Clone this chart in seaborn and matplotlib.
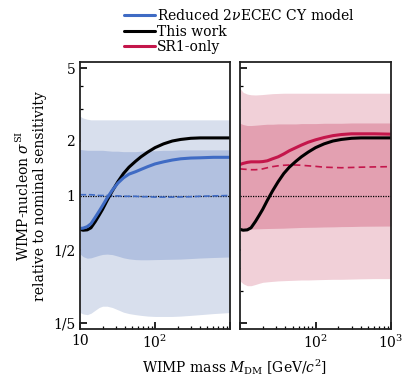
import numpy as np
import pandas as pd
import matplotlib
matplotlib.use("Agg")
import matplotlib.pyplot as plt
import matplotlib.ticker as mticker
import seaborn as sns

# WIMP mass grid [GeV/c^2]
mass = [10, 11, 12.5, 14, 16, 18, 20, 23, 27, 32, 38, 45, 55, 65, 80,
        100, 130, 170, 220, 300, 400, 600, 1000]

# "This work" (shown in both panels)
this_work = [0.652, 0.645, 0.648, 0.665, 0.72, 0.78, 0.84, 0.94, 1.06, 1.19,
             1.32, 1.43, 1.54, 1.63, 1.73, 1.83, 1.92, 1.99, 2.03, 2.06,
             2.07, 2.07, 2.07]

# Reduced 2vECEC CY model
reduced = [0.66, 0.662, 0.675, 0.70, 0.76, 0.82, 0.88, 0.97, 1.07, 1.17,
           1.25, 1.31, 1.35, 1.39, 1.44, 1.49, 1.53, 1.565, 1.59, 1.605,
           1.61, 1.62, 1.62]
reduced_median = [1.01, 1.01, 1.01, 1.01, 1.005, 1.0, 1.0, 1.0, 0.995, 0.995,
                  0.99, 0.99, 0.99, 0.985, 0.985, 0.98, 0.98, 0.98, 0.982,
                  0.985, 0.99, 0.995, 1.0]
reduced_1s_hi = [1.79, 1.78, 1.77, 1.77, 1.77, 1.77, 1.77, 1.76, 1.75, 1.75,
                 1.74, 1.74, 1.74, 1.75, 1.76, 1.76, 1.77, 1.77, 1.78, 1.78,
                 1.78, 1.78, 1.78]
reduced_1s_lo = [0.478, 0.462, 0.453, 0.455, 0.463, 0.47, 0.475, 0.477, 0.474,
                 0.465, 0.455, 0.449, 0.445, 0.444, 0.444, 0.445, 0.446, 0.447,
                 0.448, 0.451, 0.454, 0.457, 0.46]
reduced_2s_hi = [2.72, 2.66, 2.62, 2.60, 2.60, 2.60, 2.60, 2.60, 2.60, 2.60,
                 2.60, 2.60, 2.60, 2.60, 2.60, 2.60, 2.60, 2.60, 2.60, 2.60,
                 2.60, 2.60, 2.60]
reduced_2s_lo = [0.228, 0.224, 0.222, 0.226, 0.235, 0.243, 0.247, 0.247, 0.243,
                 0.236, 0.229, 0.225, 0.222, 0.220, 0.218, 0.217, 0.217, 0.217,
                 0.218, 0.220, 0.222, 0.225, 0.228]

# SR1-only
sr1 = [1.48, 1.50, 1.52, 1.53, 1.53, 1.53, 1.535, 1.55, 1.59, 1.63, 1.69,
       1.76, 1.83, 1.89, 1.96, 2.02, 2.08, 2.13, 2.16, 2.18, 2.18, 2.18, 2.17]
sr1_median = [1.40, 1.395, 1.39, 1.385, 1.385, 1.39, 1.40, 1.42, 1.44, 1.455,
              1.465, 1.47, 1.47, 1.465, 1.455, 1.445, 1.43, 1.425, 1.42,
              1.425, 1.43, 1.435, 1.44]
sr1_1s_hi = [2.49, 2.45, 2.42, 2.42, 2.43, 2.44, 2.45, 2.46, 2.46, 2.47, 2.47,
             2.47, 2.47, 2.48, 2.48, 2.48, 2.49, 2.49, 2.49, 2.50, 2.50, 2.50,
             2.50]
sr1_1s_lo = [0.652, 0.652, 0.654, 0.655, 0.656, 0.657, 0.658, 0.659, 0.66,
             0.661, 0.662, 0.664, 0.666, 0.668, 0.669, 0.67, 0.672, 0.673,
             0.675, 0.676, 0.678, 0.679, 0.68]
sr1_2s_hi = [3.87, 3.68, 3.60, 3.57, 3.56, 3.57, 3.58, 3.60, 3.62, 3.63, 3.64,
             3.64, 3.64, 3.64, 3.64, 3.64, 3.64, 3.64, 3.64, 3.64, 3.64, 3.64,
             3.64]
sr1_2s_lo = [0.34, 0.328, 0.32, 0.32, 0.325, 0.33, 0.334, 0.336, 0.338, 0.34,
             0.341, 0.342, 0.343, 0.344, 0.344, 0.345, 0.346, 0.347, 0.347,
             0.348, 0.349, 0.35, 0.35]

blue = "#3f6bc4"
blue_1s = "#b2c1e0"
blue_2s = "#d8dfed"
red = "#c4164b"
red_1s = "#e3a0b1"
red_2s = "#f1d0d8"

sns.set_theme(style="ticks")
plt.rcParams["font.family"] = ["DejaVu Serif"]
plt.rcParams["mathtext.fontset"] = "dejavuserif"
plt.rcParams["font.size"] = 10
for key in ["text.color", "axes.labelcolor", "xtick.color", "ytick.color"]:
    plt.rcParams[key] = "black"

df = pd.DataFrame({
    "mass": mass, "this_work": this_work, "reduced": reduced,
    "reduced_median": reduced_median, "sr1": sr1, "sr1_median": sr1_median,
})

fig = plt.figure(figsize=(4.16, 3.89), dpi=100)
ax1 = fig.add_axes([80 / 416, 1 - 329 / 389, 150 / 416, 267 / 389])
ax2 = fig.add_axes([240 / 416, 1 - 329 / 389, 151 / 416, 267 / 389])

# left panel: reduced model
ax1.fill_between(mass, reduced_2s_lo, reduced_2s_hi, color=blue_2s, lw=0)
ax1.fill_between(mass, reduced_1s_lo, reduced_1s_hi, color=blue_1s, lw=0)
ax1.axhline(1, color="black", lw=0.9, ls=(0, (1, 1)))
sns.lineplot(data=df, x="mass", y="reduced_median", ax=ax1, color=blue,
             lw=1.2, ls="--", legend=False)
sns.lineplot(data=df, x="mass", y="this_work", ax=ax1, color="black", lw=2.2,
             legend=False)
sns.lineplot(data=df, x="mass", y="reduced", ax=ax1, color=blue, lw=2.2,
             legend=False)

# right panel: SR1-only
ax2.fill_between(mass, sr1_2s_lo, sr1_2s_hi, color=red_2s, lw=0)
ax2.fill_between(mass, sr1_1s_lo, sr1_1s_hi, color=red_1s, lw=0)
ax2.axhline(1, color="black", lw=0.9, ls=(0, (1, 1)))
sns.lineplot(data=df, x="mass", y="sr1_median", ax=ax2, color=red,
             lw=1.2, ls=(0, (4, 2.5)), legend=False)
sns.lineplot(data=df, x="mass", y="sr1", ax=ax2, color=red, lw=2.2,
             legend=False)
sns.lineplot(data=df, x="mass", y="this_work", ax=ax2, color="black", lw=2.2,
             legend=False)

yticks = [0.2, 0.5, 1, 2, 5]
ylabels = ["1/5", "1/2", "1", "2", "5"]
for ax, xlabels in [(ax1, ["10", r"$10^2$", ""]), (ax2, ["", r"$10^2$", r"$10^3$"])]:
    ax.set_xscale("log")
    ax.set_yscale("log")
    ax.set_xlim(10, 1000)
    ax.set_ylim(1 / 5.4, 5.4)
    ax.set_xticks([10, 100, 1000])
    ax.set_xticklabels(xlabels)
    ax.xaxis.set_minor_locator(mticker.LogLocator(base=10, subs=np.arange(2, 10)))
    ax.xaxis.set_minor_formatter(mticker.NullFormatter())
    ax.set_yticks(yticks)
    ax.yaxis.set_minor_locator(mticker.LogLocator(base=10, subs=np.arange(2, 10)))
    ax.yaxis.set_minor_formatter(mticker.NullFormatter())
    ax.set_xlabel("")
    ax.set_ylabel("")
    ax.tick_params(which="major", direction="in", length=5, width=1.2,
                   labelsize=10, top=False, right=False, colors="black")
    ax.tick_params(which="minor", direction="in", length=2.5, width=0.9,
                   top=False, right=False, colors="black")
    for s in ax.spines.values():
        s.set_visible(True)
        s.set_linewidth(1.3)
        s.set_color("#222222")

ax1.set_yticklabels(ylabels)
ax2.set_yticklabels([])

handles = [ax1.get_lines()[-1], ax1.get_lines()[-2], ax2.get_lines()[-2]]
labels = [r"Reduced 2$\nu$ECEC CY model", "This work", "SR1-only"]
fig.legend(handles, labels, loc="upper left", bbox_to_anchor=(124 / 416, 1 - 8 / 389),
           frameon=False, fontsize=10, handlelength=2.2, handletextpad=0.15,
           labelspacing=0.12, borderpad=0, borderaxespad=0)

fig.text(235 / 416, 1 - 367 / 389, r"WIMP mass $M_\mathrm{DM}$ [GeV/$c^2$]",
         ha="center", va="center", fontsize=10)
fig.text(31 / 416, 1 - 196 / 389,
         "WIMP-nucleon $\\sigma^\\mathrm{SI}$\nrelative to nominal sensitivity",
         ha="center", va="center", rotation=90, fontsize=10, linespacing=1.1)

fig.savefig("out.png", dpi=100)
